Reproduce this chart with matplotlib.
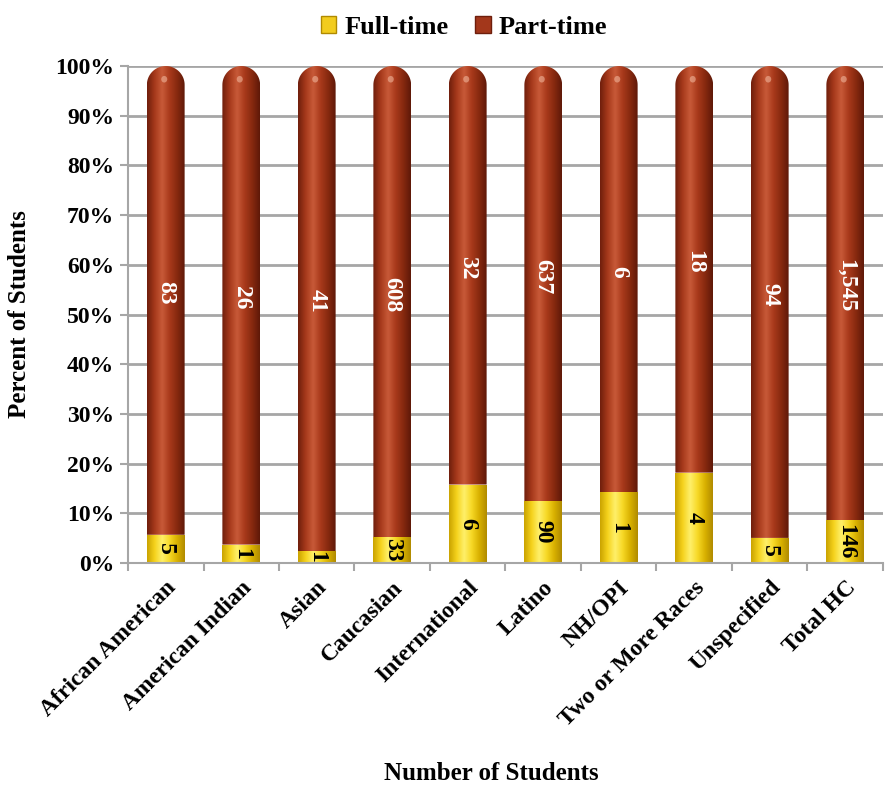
import numpy as np
import matplotlib.pyplot as plt
from matplotlib.path import Path
from matplotlib.patches import PathPatch, Patch, Ellipse
from matplotlib.colors import LinearSegmentedColormap

plt.rcParams['font.family'] = 'Liberation Serif'
plt.rcParams['font.weight'] = 'bold'
plt.rcParams['font.size'] = 17

# datos
categories = ['African American', 'American Indian', 'Asian', 'Caucasian',
              'International', 'Latino', 'NH/OPI', 'Two or More Races',
              'Unspecified', 'Total HC']
full_time = [5, 1, 1, 33, 6, 90, 1, 4, 5, 146]
part_time = [83, 26, 41, 608, 32, 637, 6, 18, 94, 1545]
ft_labels = ['5', '1', '1', '33', '6', '90', '1', '4', '5', '146']
pt_labels = ['83', '26', '41', '608', '32', '637', '6', '18', '94', '1,545']

ft = np.array(full_time, dtype=float)
pt = np.array(part_time, dtype=float)
total = ft + pt
ft_pct = 100 * ft / total
pt_pct = 100 * pt / total

# colores tipo cilindro
cmap_ft = LinearSegmentedColormap.from_list(
    'ft', ['#c9a200', '#f5d21c', '#fff06a', '#f7d825', '#d8b000', '#b08a00'])
cmap_pt = LinearSegmentedColormap.from_list(
    'pt', ['#6e1e0c', '#a6391b', '#c85a38', '#a8391b', '#86290f', '#5e1808'])

fig = plt.figure(figsize=(8.92, 7.85), dpi=100)
ax = fig.add_axes([0.1435, 0.2828, 0.8464, 0.6331])

x = np.arange(len(categories))
w = 0.5
b1 = ax.bar(x, ft_pct, w, color='#f2cc1e', zorder=2)
b2 = ax.bar(x, pt_pct, w, bottom=ft_pct, color='#a3371b', zorder=2)

ax.set_xlim(-0.5, len(categories) - 0.5)
ax.set_ylim(0, 100)

# altura de la tapa redondeada en unidades de datos
fig.canvas.draw()
bb = ax.get_window_extent()
px_x = bb.width / (len(categories))
px_y = bb.height / 100.0
cap_h = (w / 2 * px_x) / px_y

grad = np.linspace(0, 1, 256).reshape(1, -1)


def shade(rect, cmap, rounded=False):
    x0 = rect.get_x()
    x1 = x0 + rect.get_width()
    y0 = rect.get_y()
    y1 = y0 + rect.get_height()
    rect.set_visible(False)
    if rounded:
        th = np.linspace(0, np.pi, 60)
        xc = (x0 + x1) / 2
        arc = np.column_stack([xc + (x1 - x0) / 2 * np.cos(th),
                               y1 - cap_h + cap_h * np.sin(th)])
        verts = np.vstack([[x0, y0], [x1, y0], arc, [x0, y0]])
    else:
        verts = np.array([[x0, y0], [x1, y0], [x1, y1], [x0, y1], [x0, y0]])
    path = Path(verts, closed=True)
    clip = PathPatch(path, facecolor='none', edgecolor='none',
                     transform=ax.transData)
    ax.add_patch(clip)
    im = ax.imshow(grad, extent=[x0, x1, y0, y1], cmap=cmap, aspect='auto',
                   interpolation='bicubic', zorder=2)
    im.set_clip_path(clip)
    if rounded:
        ax.add_patch(Ellipse(((x0 + x1) / 2 - 0.02, y1 - cap_h * 0.7),
                             0.08, cap_h * 0.35, color='#f0b49a', alpha=0.6,
                             zorder=3, lw=0))


for r in b1:
    shade(r, cmap_ft)
for r in b2:
    shade(r, cmap_pt, rounded=True)

ax.set_xlim(-0.5, len(categories) - 0.5)
ax.set_ylim(0, 100)

# etiquetas de valores
for i in range(len(categories)):
    ax.text(x[i], ft_pct[i] / 2, ft_labels[i], rotation=-90, ha='center',
            va='center', color='black', fontsize=17, zorder=4)
    ax.text(x[i], ft_pct[i] + pt_pct[i] / 2 + 1.5, pt_labels[i], rotation=-90,
            ha='center', va='center', color='white', fontsize=17, zorder=4)

# ejes
ax.set_yticks(np.arange(0, 101, 10))
ax.set_yticklabels(['%d%%' % v for v in range(0, 101, 10)])
ax.yaxis.grid(True, color='#a6a6a6', linewidth=2, zorder=0)
ax.set_axisbelow(True)
ax.set_xticks(x)
ax.set_xticklabels(categories, rotation=45, ha='right', rotation_mode='anchor')
ax.set_xticks(np.arange(-0.5, len(categories), 1), minor=True)
ax.tick_params(axis='x', which='major', length=0, pad=10)
ax.tick_params(axis='x', which='minor', length=6, color='#a6a6a6', width=1.5)
ax.tick_params(axis='y', length=6, color='#a6a6a6', width=1.5, pad=4)
for s in ['top', 'right']:
    ax.spines[s].set_visible(False)
for s in ['left', 'bottom']:
    ax.spines[s].set_color('#a6a6a6')
    ax.spines[s].set_linewidth(1.5)

ax.set_ylabel('Percent of Students', fontsize=18, fontweight='bold',
              labelpad=8)
ax.yaxis.set_label_coords(-0.128, 0.5)
fig.text(0.551, 0.0, 'Number of Students', ha='center', va='bottom',
         fontsize=18, fontweight='bold')

handles = [Patch(facecolor='#f2cc1e', edgecolor='#b08a00'),
           Patch(facecolor='#a3371b', edgecolor='#6e1e0c')]
fig.legend(handles, ['Full-time', 'Part-time'], loc='upper center',
           bbox_to_anchor=(0.52, 1.01), ncol=2, frameon=False, fontsize=19,
           handlelength=0.6, handleheight=0.6, handletextpad=0.3,
           columnspacing=1.0)

plt.savefig('out.png', dpi=100)
